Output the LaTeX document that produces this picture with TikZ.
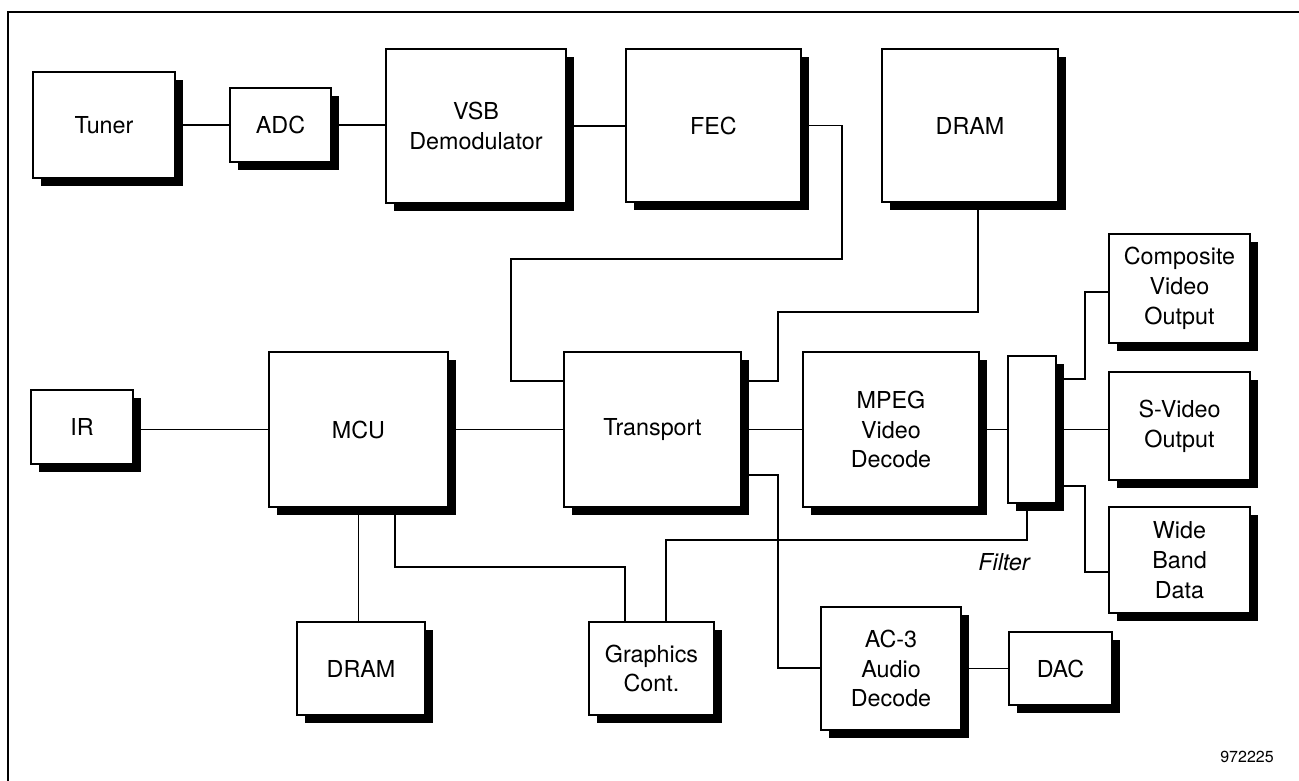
\documentclass[tikz,border=0pt]{standalone}
\usepackage{fontspec}
\setmainfont{TeX Gyre Heros}
\usetikzlibrary{shadows}
\tikzset{
  box/.style={draw=black, fill=white, line width=1.5pt, align=center, inner sep=0pt,
    font=\fontsize{17.5}{22.3}\selectfont,
    drop shadow={shadow xshift=6pt, shadow yshift=-6pt, opacity=1, fill=black}},
  conn/.style={line width=1.4pt, line join=miter},
  lbl/.style={inner sep=0pt, font=\fontsize{17.5}{22}\selectfont\itshape},
  fignum/.style={inner sep=0pt, font=\fontsize{12}{14}\selectfont},
  frame/.style={line width=1.5pt}
}
\newcommand\mkbox[6]{\node[box, minimum width={(#4-#2)*0.75pt}, minimum height={(#5-#3)*0.75pt}] (#1) at ({(#2+#4)/2},{(#3+#5)/2}) {#6};}
\begin{document}
\begin{tikzpicture}[x=0.75pt, y=-0.75pt]
\useasboundingbox (0,0) rectangle (1299,781);
\begin{scope}
\clip (0,0) rectangle (1299,781);
\draw[frame] (8,12) rectangle (1330,800);
\end{scope}
% boxes
\mkbox{tuner}{33}{72}{175}{178}{Tuner}
\mkbox{adc}{230}{88}{331}{162}{ADC}
\mkbox{vsb}{386}{49}{566}{203}{VSB\\Demodulator}
\mkbox{fec}{626}{49}{801}{202}{FEC}
\mkbox{dramtop}{882}{49}{1058}{202}{DRAM}
\mkbox{ir}{31}{390}{133}{464}{IR}
\mkbox{mcu}{269}{352}{448}{507}{MCU}
\mkbox{transport}{564}{352}{741}{507}{Transport}
\mkbox{mpeg}{803}{352}{979}{507}{MPEG\\Video\\Decode}
\mkbox{filter}{1008}{356}{1056}{503}{}
\mkbox{composite}{1109}{234}{1250}{343}{Composite\\Video\\Output}
\mkbox{svideo}{1109}{372}{1250}{480}{S-Video\\Output}
\mkbox{wideband}{1109}{507}{1250}{613}{Wide\\Band\\Data}
\mkbox{drambot}{297}{622}{425}{715}{DRAM}
\mkbox{graphics}{589}{622}{714}{715}{Graphics\\Cont.}
\mkbox{ac3}{821}{607}{961}{730}{AC-3\\Audio\\Decode}
\mkbox{dac}{1009}{632}{1112}{705}{DAC}
% labels
\node[lbl] (filterlbl) at (1004,562) {Filter};
\node[fignum] (num) at (1247,757) {972225};
% bend points
\coordinate (fecA) at (842,259);
\coordinate (fecB) at (511,381);
\coordinate (drA) at (778,312);
\coordinate (drB) at (778,381);
\coordinate (cmpA) at (1085,379);
\coordinate (cmpB) at (1085,292);
\coordinate (wbA) at (1085,486);
\coordinate (wbB) at (1085,572);
\coordinate (flA) at (1027,540);
\coordinate (flB) at (666,540);
\coordinate (mgA) at (395,567);
\coordinate (mgB) at (625,567);
\coordinate (taA) at (778,475);
\coordinate (taB) at (778,668);
% connectors
\draw[conn] (tuner.east) -- (adc.west);
\draw[conn] (adc.east) -- (adc.east -| vsb.west);
\draw[conn] (vsb.east) -- (vsb.east -| fec.west);
\draw[conn] (fec.east) -| (fecA) -| (fecB) -- (fecB -| transport.west);
\draw[conn] ([xshift=6pt]dramtop.south) |- (drA) -- (drB) -- (drB -| transport.east);
\draw[conn] (mcu.west) -- (mcu.west -| ir.east);
\draw[conn] (mcu.east) -- (transport.west);
\draw[conn] (transport.east) -- (mpeg.west);
\draw[conn] (mpeg.east) -- (filter.west);
\draw[conn] (filter.east) -- (filter.east -| svideo.west);
\draw[conn] (cmpA -| filter.east) -- (cmpA) -- (cmpB) -- (cmpB -| composite.west);
\draw[conn] (wbA -| filter.east) -- (wbA) -- (wbB) -- (wbB -| wideband.west);
\draw[conn] (flA |- filter.south) -- (flA) -- (flB) -- (flB |- graphics.north);
\draw[conn] (mgA |- mcu.south) -- (mgA) -- (mgB) -- (mgB |- graphics.north);
\draw[conn] (mcu.south) -- (mcu.south |- drambot.north);
\draw[conn] (taA -| transport.east) -- (taA) -- (taB) -- (taB -| ac3.west);
\draw[conn] (ac3.east) -- (dac.west);
\end{tikzpicture}
\end{document}
